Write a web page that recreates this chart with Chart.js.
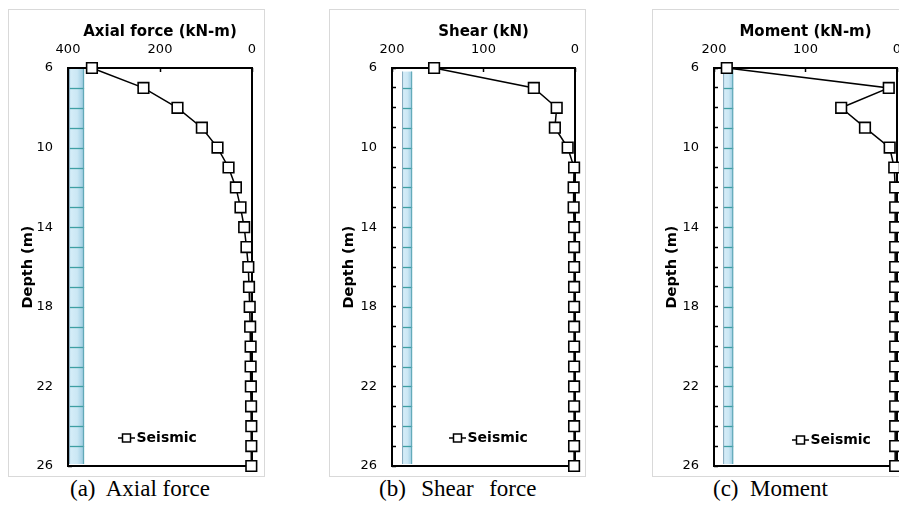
<!DOCTYPE html>
<html>
<head>
<meta charset="utf-8">
<title>Pile response with depth</title>
<script src="https://cdn.jsdelivr.net/npm/chart.js@4.4.1/dist/chart.umd.min.js"></script>
<style>
  html, body { margin: 0; padding: 0; background: #fff; overflow: hidden; }
  body { width: 899px; height: 512px; position: relative; }
  .frame { position: absolute; top: 9px; width: 255px; height: 466px; border: 1px solid #d9d9d9; background: #fff; }
  .frame canvas { position: absolute; left: 0; top: 0; }
  .cap { position: absolute; top: 477px; font-family: 'Liberation Serif', 'Times New Roman', serif; font-size: 23px; line-height: 23px; white-space: pre; color: #000; }
</style>
</head>
<body>
<div class="frame" style="left:8px"><canvas id="axial" width="255" height="466"></canvas></div>
<div class="frame" style="left:329px"><canvas id="shear" width="255" height="466"></canvas></div>
<div class="frame" style="left:652px"><canvas id="moment" width="255" height="466"></canvas></div>
<div class="cap" style="left:70px">(a)  Axial force</div>
<div class="cap" style="left:379px; word-spacing:2px">(b)  Shear  force</div>
<div class="cap" style="left:713px">(c)  Moment</div>
<script>
// depth of each output node (m)
const depth = [6, 7, 8, 9, 10, 11, 12, 13, 14, 15, 16, 17, 18, 19, 20, 21, 22, 23, 24, 25, 26]
const axialForce = [348, 236, 162, 109, 75, 51, 35, 25, 17, 12, 8, 6.5, 5, 4, 3, 3, 2.5, 2, 1.5, 1.5, 1.5]
const shearForce = [154, 45, 20, 22, 8, 1, 1.5, 1.5, 1, 1, 1, 1, 1, 1, 1, 1, 1, 1, 1, 1, 1]
const moment = [186, 9, 61, 35, 8, 3, 2, 2, 2, 2, 2, 2, 2, 2, 2, 2, 2, 2, 2, 2, 2]
const seriesName = 'Seismic'
const depthLabels = [6, 10, 14, 18, 22, 26]

// pile sketch: horizontal extent in each panel's units, and depth range
const pileAxial = [398, 365]
const pileShear = [189, 178]
const pileMoment = [190, 179]
const pileTop = [6, 6.18, 6]
const pileBottom = 25.9

const FONT = "'DejaVu Sans', Verdana, sans-serif"
Chart.defaults.font.family = FONT
Chart.defaults.color = '#000'

const W = 255, H = 466

const panels = [
  { id: 'axial', frameX: 8, plotL: 68, plotR: 252, xMax: 400, step: 200, title: 'Axial force (kN-m)', values: axialForce, pile: pileAxial, pileTop: pileTop[0], key: [50, 28] },
  { id: 'shear', frameX: 329, plotL: 392, plotR: 575, xMax: 200, step: 100, title: 'Shear (kN)', values: shearForce, pile: pileShear, pileTop: pileTop[1], key: [57, 28] },
  { id: 'moment', frameX: 652, plotL: 714, plotR: 897, xMax: 200, step: 100, title: 'Moment (kN-m)', values: moment, pile: pileMoment, pileTop: pileTop[2], key: [78, 26] }
]

/* pile column drawn behind the curve */
const pilePlugin = {
  id: 'pile',
  beforeDatasetsDraw(chart, args, opts) {
    const { ctx, scales: { x, y } } = chart
    const x0 = x.getPixelForValue(opts.span[0])
    const x1 = x.getPixelForValue(opts.span[1])
    const y0 = y.getPixelForValue(opts.top)
    const y1 = y.getPixelForValue(pileBottom)
    ctx.save()
    const g = ctx.createLinearGradient(x0, 0, x1, 0)
    g.addColorStop(0, '#9cc3d8')
    g.addColorStop(0.12, '#d5edf8')
    g.addColorStop(0.55, '#cbe7f4')
    g.addColorStop(0.85, '#a8d3e6')
    g.addColorStop(1, '#7fb6c9')
    ctx.fillStyle = g
    ctx.fillRect(x0, y0, x1 - x0, y1 - y0)
    ctx.strokeStyle = '#3f9fa4'
    ctx.lineWidth = 1.3
    for (let d = Math.ceil(opts.top + 0.5); d < pileBottom; d++) {
      const yy = Math.round(y.getPixelForValue(d)) + 0.5
      ctx.beginPath()
      ctx.moveTo(x0, yy)
      ctx.lineTo(x1, yy)
      ctx.stroke()
    }
    ctx.lineWidth = 1
    ctx.strokeStyle = '#86a9bd'
    ctx.beginPath(); ctx.moveTo(x0 + 0.5, y0); ctx.lineTo(x0 + 0.5, y1); ctx.stroke()
    ctx.strokeStyle = '#5ea7b6'
    ctx.beginPath(); ctx.moveTo(x1 - 0.5, y0); ctx.lineTo(x1 - 0.5, y1); ctx.stroke()
    ctx.restore()
  }
}

/* black box round the plot area */
const boxPlugin = {
  id: 'box',
  beforeDatasetsDraw(chart) {
    const { ctx, chartArea: a } = chart
    ctx.save()
    ctx.strokeStyle = '#000'
    ctx.lineWidth = 2
    ctx.strokeRect(a.left, a.top, a.right - a.left, a.bottom - a.top)
    ctx.restore()
  }
}

/* series key inside the plot, line with a square marker */
const keyPlugin = {
  id: 'key',
  afterDatasetsDraw(chart, args, opts) {
    const { ctx, chartArea } = chart
    const ds = chart.data.datasets[0]
    const x = chartArea.left + opts.at[0]
    const y = chartArea.bottom - opts.at[1]
    ctx.save()
    ctx.strokeStyle = '#000'
    ctx.lineWidth = 1.5
    ctx.beginPath(); ctx.moveTo(x, y); ctx.lineTo(x + 17, y); ctx.stroke()
    ctx.fillStyle = '#fff'
    ctx.fillRect(x + 4.5, y - 4, 8, 8)
    ctx.strokeRect(x + 4.5, y - 4, 8, 8)
    ctx.fillStyle = '#000'
    ctx.font = 'bold 14px ' + FONT
    ctx.textBaseline = 'middle'
    ctx.fillText(ds.label, x + 18.5, y + 0.5)
    ctx.restore()
  }
}

panels.forEach(p => {
  const left = p.plotL - (p.frameX + 1)
  const right = p.plotR - (p.frameX + 1)
  const top = 58, bottom = 456
  const tickGrid = { drawOnChartArea: false, tickLength: -4, tickColor: '#000', tickWidth: 1.5 }

  new Chart(document.getElementById(p.id), {
    type: 'scatter',
    data: {
      datasets: [{
        label: seriesName,
        data: depth.map((d, i) => ({ x: p.values[i], y: d })),
        showLine: true,
        borderColor: '#000',
        borderWidth: 1.5,
        pointStyle: 'rect',
        pointRadius: 7.5,
        pointBorderWidth: 1.6,
        pointBackgroundColor: '#fff',
        pointBorderColor: '#000',
        clip: false
      }]
    },
    options: {
      responsive: false,
      animation: false,
      events: [],
      layout: { padding: { left: 0, top: 0, right: W - right, bottom: H - bottom } },
      plugins: {
        legend: { display: false },
        tooltip: { enabled: false },
        pile: { span: p.pile, top: p.pileTop },
        key: { at: p.key }
      },
      scales: {
        x: {
          type: 'linear',
          position: 'top',
          reverse: true,
          min: 0,
          max: p.xMax,
          ticks: { stepSize: p.step, padding: 15, font: { size: 13 } },
          grid: tickGrid,
          border: { display: false },
          title: { display: true, text: p.title, font: { size: 15, weight: 'bold' }, padding: { top: 13.5, bottom: 0 } },
          // fixed band above the plot; label overhang fits in the canvas margin
          afterFit: s => { s.height = top; s.paddingLeft = 0; s.paddingRight = 0 }
        },
        y: {
          type: 'linear',
          reverse: true,
          min: 6,
          max: 26,
          ticks: {
            stepSize: 1,
            autoSkip: false,
            padding: 19,
            font: { size: 13 },
            callback: v => depthLabels.includes(v) ? v : ''
          },
          grid: tickGrid,
          border: { display: false },
          title: { display: true, text: 'Depth (m)', font: { size: 14.5, weight: 'bold' }, padding: { top: 10.3, bottom: 0 } },
          afterFit: s => { s.width = left; s.paddingTop = 0; s.paddingBottom = 0 }
        }
      }
    },
    plugins: [pilePlugin, boxPlugin, keyPlugin]
  })
})
</script>
</body>
</html>
